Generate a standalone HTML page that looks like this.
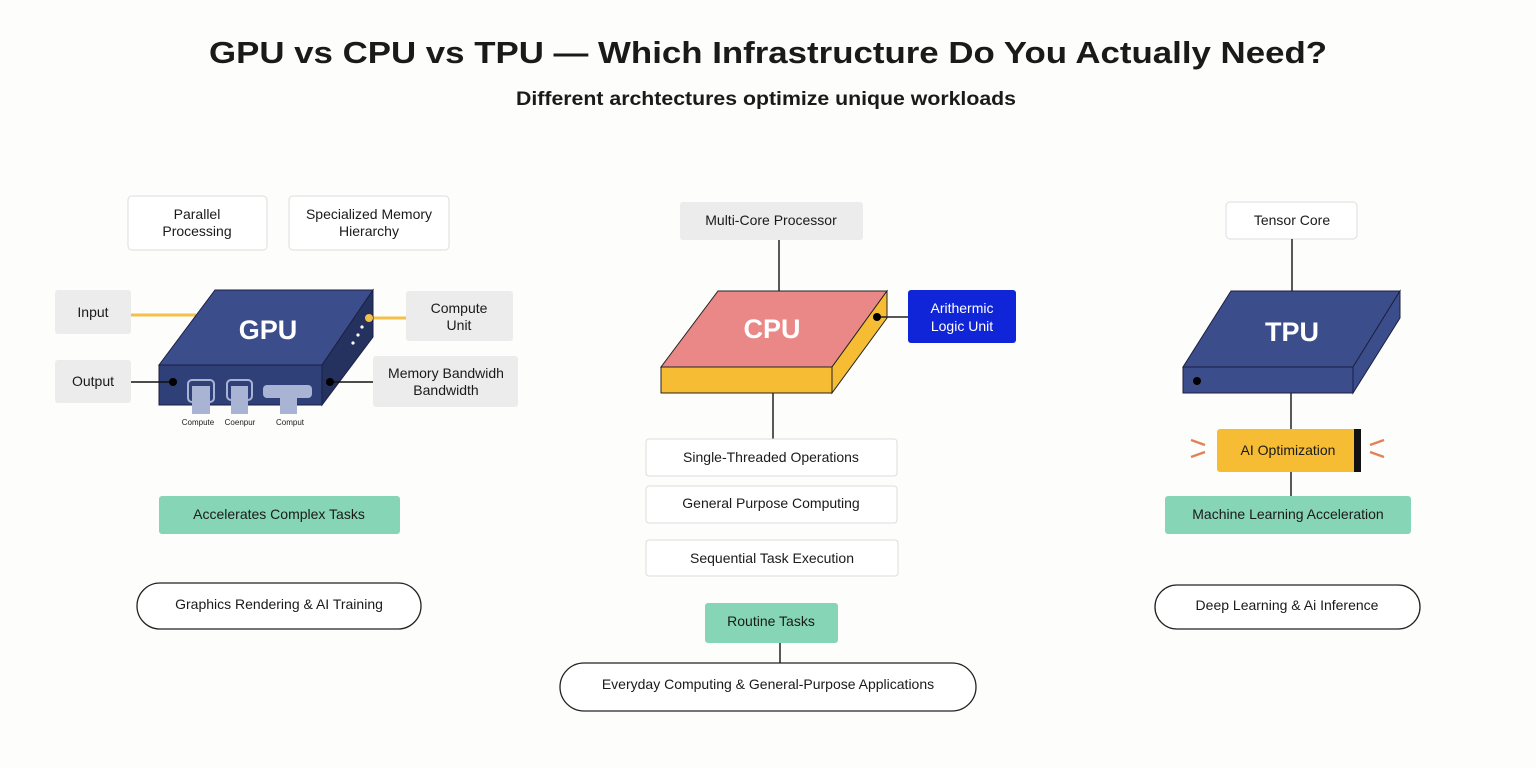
<!DOCTYPE html>
<html><head><meta charset="utf-8"><style>
html,body{margin:0;padding:0;background:#fdfdfb;}
svg{display:block;}
text{font-family:"Liberation Sans",sans-serif;fill:#1a1a1a;}
</style></head><body>
<svg width="1536" height="768" viewBox="0 0 1536 768">
<rect width="1536" height="768" fill="#fdfdfb"/>
<text x="768" y="63" text-anchor="middle" font-size="31" font-weight="bold" fill="#111" textLength="1118" lengthAdjust="spacingAndGlyphs">GPU vs CPU vs TPU — Which Infrastructure Do You Actually Need?</text>
<text x="766" y="105" text-anchor="middle" font-size="19" font-weight="bold" textLength="500" lengthAdjust="spacingAndGlyphs">Different archtectures optimize unique workloads</text>

<g font-size="14" text-anchor="middle">
<!-- GPU -->
<rect x="128" y="196" width="139" height="54" rx="4" fill="#fff" stroke="#ddd"/>
<text x="197" y="219">Parallel</text><text x="197" y="236">Processing</text>
<rect x="289" y="196" width="160" height="54" rx="4" fill="#fff" stroke="#ddd"/>
<text x="369" y="219">Specialized Memory</text><text x="369" y="236">Hierarchy</text>
<rect x="55" y="290" width="76" height="44" rx="3" fill="#ececec"/>
<text x="93" y="317">Input</text>
<rect x="55" y="360" width="76" height="43" rx="3" fill="#ececec"/>
<text x="93" y="386">Output</text>
<rect x="406" y="291" width="107" height="50" rx="3" fill="#ececec"/>
<text x="459" y="313">Compute</text><text x="459" y="330">Unit</text>
<rect x="373" y="356" width="145" height="51" rx="3" fill="#ececec"/>
<text x="446" y="378">Memory Bandwidh</text><text x="446" y="395">Bandwidth</text>
<line x1="131" y1="315" x2="196" y2="315" stroke="#f3c04a" stroke-width="3"/>
<line x1="369" y1="318" x2="406" y2="318" stroke="#f3c04a" stroke-width="3"/>
<polygon points="215,290 373,290 322,365 159,365" fill="#3c4d8c" stroke="#1a2040"/>
<polygon points="159,365 322,365 322,405 159,405" fill="#2f3f78" stroke="#1a2040"/>
<polygon points="322,365 373,290 373,337 322,405" fill="#25325f" stroke="#1a2040"/>
<text x="268" y="339" font-size="27" font-weight="bold" fill="#fff" style="fill:#fff">GPU</text>
<circle cx="369" cy="318" r="4" fill="#f3c04a"/>
<circle cx="362" cy="327" r="1.6" fill="#fff"/><circle cx="358" cy="335" r="1.6" fill="#fff"/><circle cx="353" cy="343" r="1.6" fill="#fff"/>
<line x1="131" y1="382" x2="172" y2="382" stroke="#111" stroke-width="1.5"/><circle cx="173" cy="382" r="4" fill="#000"/>
<line x1="330" y1="382" x2="373" y2="382" stroke="#111" stroke-width="1.5"/><circle cx="330" cy="382" r="4" fill="#000"/>
<rect x="188" y="380" width="26" height="22" rx="4" fill="none" stroke="#a9b3d3" stroke-width="2"/>
<rect x="192" y="386" width="18" height="28" fill="#a9b3d3"/>
<rect x="227" y="380" width="25" height="20" rx="4" fill="none" stroke="#a9b3d3" stroke-width="2"/>
<rect x="231" y="386" width="17" height="28" fill="#a9b3d3"/>
<rect x="263" y="385" width="49" height="13" rx="4" fill="#a9b3d3"/>
<rect x="280" y="397" width="17" height="17" fill="#a9b3d3"/>
<text x="198" y="425" font-size="8">Compute</text><text x="240" y="425" font-size="8">Coenpur</text><text x="290" y="425" font-size="8">Comput</text>
<rect x="159" y="496" width="241" height="38" rx="3" fill="#86d5b6"/>
<text x="279" y="519">Accelerates Complex Tasks</text>
<rect x="137" y="583" width="284" height="46" rx="23" fill="#fff" stroke="#222" stroke-width="1.3"/>
<text x="279" y="609">Graphics Rendering &amp; AI Training</text>

<!-- CPU -->
<rect x="680" y="202" width="183" height="38" rx="3" fill="#ececec"/>
<text x="771" y="225">Multi-Core Processor</text>
<line x1="779" y1="240" x2="779" y2="292" stroke="#222" stroke-width="1.5"/>
<polygon points="718,291 887,291 832,367 661,367" fill="#e98886" stroke="#222"/>
<polygon points="661,367 832,367 832,393 661,393" fill="#f6bd34" stroke="#222"/>
<polygon points="832,367 887,291 887,318 832,393" fill="#f6bd34" stroke="#222"/>
<text x="772" y="338" font-size="27" font-weight="bold" style="fill:#fff">CPU</text>
<rect x="908" y="290" width="108" height="53" rx="3" fill="#1024d8"/>
<text x="962" y="313" style="fill:#fff">Arithermic</text><text x="962" y="331" style="fill:#fff">Logic Unit</text>
<line x1="877" y1="317" x2="908" y2="317" stroke="#222" stroke-width="1.5"/><circle cx="877" cy="317" r="4" fill="#000"/>
<line x1="773" y1="393" x2="773" y2="439" stroke="#222" stroke-width="1.5"/>
<rect x="646" y="439" width="251" height="37" rx="3" fill="#fff" stroke="#ddd"/>
<text x="771" y="462">Single-Threaded Operations</text>
<rect x="646" y="486" width="251" height="37" rx="3" fill="#fff" stroke="#ddd"/>
<text x="771" y="508">General Purpose Computing</text>
<rect x="646" y="540" width="252" height="36" rx="3" fill="#fff" stroke="#ddd"/>
<text x="772" y="563">Sequential Task Execution</text>
<rect x="705" y="603" width="133" height="40" rx="3" fill="#86d5b6"/>
<text x="771" y="626">Routine Tasks</text>
<line x1="780" y1="643" x2="780" y2="663" stroke="#222" stroke-width="1.5"/>
<rect x="560" y="663" width="416" height="48" rx="24" fill="#fff" stroke="#222" stroke-width="1.3"/>
<text x="768" y="689">Everyday Computing &amp; General-Purpose Applications</text>

<!-- TPU -->
<rect x="1226" y="202" width="131" height="37" rx="4" fill="#fff" stroke="#ddd"/>
<text x="1292" y="225">Tensor Core</text>
<line x1="1292" y1="239" x2="1292" y2="291" stroke="#222" stroke-width="1.5"/>
<polygon points="1231,291 1400,291 1353,367 1183,367" fill="#3c4d8c" stroke="#1a2040"/>
<polygon points="1183,367 1353,367 1353,393 1183,393" fill="#3c4d8c" stroke="#1a2040"/>
<polygon points="1353,367 1400,291 1400,318 1353,393" fill="#3c4d8c" stroke="#1a2040"/>
<text x="1292" y="341" font-size="27" font-weight="bold" style="fill:#fff">TPU</text>
<circle cx="1197" cy="381" r="4" fill="#000"/>
<line x1="1291" y1="393" x2="1291" y2="429" stroke="#222" stroke-width="1.5"/>
<rect x="1217" y="429" width="143" height="43" rx="3" fill="#f6bd34"/>
<rect x="1354" y="429" width="7" height="43" fill="#111"/>
<text x="1288" y="455">AI Optimization</text>
<g stroke="#e0835a" stroke-width="2.5"><line x1="1191" y1="440" x2="1205" y2="445"/><line x1="1191" y1="457" x2="1205" y2="452"/><line x1="1370" y1="445" x2="1384" y2="440"/><line x1="1370" y1="452" x2="1384" y2="457"/></g>
<line x1="1291" y1="472" x2="1291" y2="496" stroke="#222" stroke-width="1.5"/>
<rect x="1165" y="496" width="246" height="38" rx="3" fill="#86d5b6"/>
<text x="1288" y="519">Machine Learning Acceleration</text>
<rect x="1155" y="585" width="265" height="44" rx="22" fill="#fff" stroke="#222" stroke-width="1.3"/>
<text x="1287" y="610">Deep Learning &amp; Ai Inference</text>
</g>
</svg>
</body></html>
